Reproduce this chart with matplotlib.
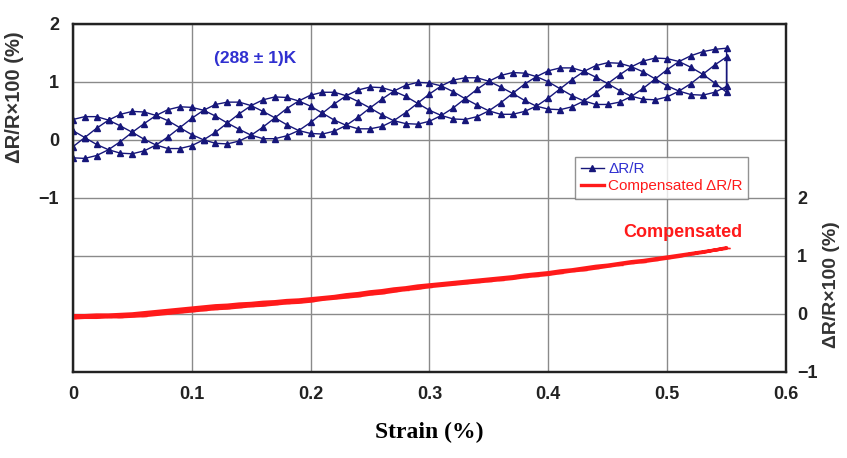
import matplotlib
matplotlib.use('Agg')
import matplotlib.pyplot as plt
import numpy as np

plt.rcParams['font.family'] = ['Liberation Sans', 'DejaVu Sans']

# strain grid (%) shared by every sweep
strain = np.round(np.arange(0, 0.551, 0.01), 2)

# dR/R x 100 (%) for the four sweeps, read along increasing strain
dr_sweep1 = [-0.12, 0.04, 0.20, 0.34, 0.44, 0.49, 0.48, 0.42, 0.33, 0.21,
             0.09, 0.00, -0.06, -0.07, -0.02, 0.08, 0.22, 0.38, 0.54, 0.67,
             0.77, 0.82, 0.82, 0.76, 0.66, 0.55, 0.43, 0.33, 0.28, 0.27,
             0.32, 0.42, 0.55, 0.71, 0.87, 1.01, 1.11, 1.16, 1.15, 1.09,
             1.00, 0.88, 0.76, 0.67, 0.61, 0.61, 0.65, 0.75, 0.89, 1.05,
             1.21, 1.35, 1.45, 1.52, 1.56, 1.58]
dr_sweep2 = [0.35, 0.40, 0.40, 0.34, 0.24, 0.13, 0.01, -0.09, -0.15, -0.15,
             -0.10, 0.00, 0.13, 0.29, 0.45, 0.59, 0.69, 0.74, 0.73, 0.67,
             0.58, 0.46, 0.34, 0.25, 0.19, 0.19, 0.23, 0.33, 0.47, 0.63,
             0.79, 0.93, 1.03, 1.07, 1.07, 1.01, 0.91, 0.80, 0.68, 0.58,
             0.53, 0.52, 0.57, 0.67, 0.81, 0.97, 1.12, 1.26, 1.36, 1.41,
             1.40, 1.35, 1.25, 1.13, 0.98, 0.82]
dr_sweep3 = [-0.31, -0.32, -0.27, -0.17, -0.03, 0.13, 0.28, 0.42, 0.52, 0.57,
             0.56, 0.51, 0.41, 0.29, 0.18, 0.08, 0.02, 0.02, 0.07, 0.16,
             0.30, 0.46, 0.62, 0.76, 0.86, 0.91, 0.90, 0.84, 0.75, 0.63,
             0.51, 0.42, 0.36, 0.35, 0.40, 0.50, 0.64, 0.80, 0.96, 1.09,
             1.19, 1.24, 1.24, 1.18, 1.08, 0.97, 0.85, 0.75, 0.70, 0.69,
             0.74, 0.84, 0.97, 1.13, 1.29, 1.43]
dr_sweep4 = [0.16, 0.04, -0.08, -0.17, -0.23, -0.24, -0.19, -0.09, 0.05, 0.21,
             0.37, 0.51, 0.61, 0.65, 0.65, 0.59, 0.49, 0.38, 0.26, 0.16,
             0.11, 0.10, 0.15, 0.25, 0.39, 0.55, 0.70, 0.84, 0.94, 0.99,
             0.98, 0.93, 0.83, 0.71, 0.60, 0.50, 0.44, 0.44, 0.49, 0.58,
             0.72, 0.88, 1.04, 1.18, 1.28, 1.33, 1.32, 1.26, 1.17, 1.05,
             0.93, 0.84, 0.78, 0.77, 0.82, 0.92]

# compensated dR/R x 100 (%), loading and unloading
comp_up = [-0.07, -0.06, -0.06, -0.05, -0.05, -0.04, -0.03, -0.01, 0.01, 0.03,
           0.05, 0.07, 0.09, 0.10, 0.12, 0.14, 0.15, 0.17, 0.19, 0.20,
           0.22, 0.25, 0.27, 0.29, 0.31, 0.34, 0.36, 0.39, 0.42, 0.44,
           0.47, 0.49, 0.51, 0.53, 0.55, 0.57, 0.59, 0.61, 0.64, 0.66,
           0.68, 0.71, 0.74, 0.76, 0.79, 0.82, 0.85, 0.88, 0.90, 0.93,
           0.96, 0.99, 1.03, 1.06, 1.10, 1.13]
comp_down = [-0.03, -0.03, -0.02, -0.02, -0.01, 0.00, 0.02, 0.04, 0.06, 0.08,
             0.10, 0.12, 0.14, 0.15, 0.17, 0.18, 0.20, 0.21, 0.23, 0.24,
             0.26, 0.28, 0.30, 0.33, 0.35, 0.38, 0.40, 0.43, 0.45, 0.48,
             0.50, 0.52, 0.54, 0.56, 0.58, 0.60, 0.62, 0.64, 0.67, 0.69,
             0.71, 0.74, 0.76, 0.79, 0.82, 0.84, 0.87, 0.90, 0.92, 0.95,
             0.98, 1.01, 1.04, 1.07, 1.10, 1.14]

x_ticks = [0, 0.1, 0.2, 0.3, 0.4, 0.5, 0.6]
x_labels = ['0', '0.1', '0.2', '0.3', '0.4', '0.5', '0.6']
y_left = [-4, -3, -2, -1, 0, 1, 2]
y_left_labels = ['', '', '', '\u22121', '0', '1', '2']
y_right = [-1, 0, 1, 2, 3, 4, 5]
y_right_labels = ['\u22121', '0', '1', '2', '', '', '']

# one continuous record: up, down, up, down
rev = strain[::-1]
x_all = np.concatenate([strain, rev, strain, rev])
y_all = np.concatenate([dr_sweep1, dr_sweep2[::-1], dr_sweep3, dr_sweep4[::-1]])
xc_all = np.concatenate([strain, rev])
yc_all = np.concatenate([comp_up, comp_down[::-1]])

blue = '#16167a'
red = '#ff1a1a'

fig = plt.figure(figsize=(8.47, 4.58), dpi=100)
ax = fig.add_axes([0.086, 0.188, 0.842, 0.760])
ax2 = ax.twinx()

ax.plot(x_all, y_all, color=blue, lw=1.0, marker='^', ms=3.8,
        mec=blue, mfc=blue, label='\u0394R/R')
ax2.plot(xc_all, yc_all, color=red, lw=2.4, marker='_', ms=4,
         label='Compensated \u0394R/R')

ax.set_xlim(0, 0.6)
ax.set_ylim(-4, 2)
ax2.set_ylim(-1, 5)

ax.set_xticks(x_ticks)
ax.set_xticklabels(x_labels)
ax.set_yticks(y_left)
ax.set_yticklabels(y_left_labels)
ax2.set_yticks(y_right)
ax2.set_yticklabels(y_right_labels)

ax.grid(True, color='#8a8a8a', lw=1)
ax.set_axisbelow(True)
for a in (ax, ax2):
    a.tick_params(length=0, labelsize=13, colors='#222222')
    for lab in a.get_xticklabels() + a.get_yticklabels():
        lab.set_fontweight('bold')
    for s in a.spines.values():
        s.set_linewidth(1.6)
        s.set_color('#222222')
ax.tick_params(axis='x', pad=10)
ax.tick_params(axis='y', pad=10)
ax2.tick_params(axis='y', pad=8)

ax.set_ylabel('\u0394R/R\u00d7100 (%)', fontsize=14.5, fontweight='bold', color='#333333')
ax.yaxis.set_label_coords(-0.068, 0.79)
ax2.set_ylabel('\u0394R/R\u00d7100 (%)', fontsize=14, fontweight='bold', color='#333333')
ax2.yaxis.set_label_coords(1.052, 0.25)

ax.set_xlabel('Strain (%)', fontsize=17, fontweight='bold',
              family='Liberation Serif', labelpad=14)

ax.text(0.153, 1.41, '(288 \u00b1 1)K', color='#3030d0', fontsize=12.5,
        fontweight='bold', ha='center', va='center')
ax2.text(0.513, 1.41, 'Compensated', color=red, fontsize=13,
         fontweight='bold', ha='center', va='center')

h1, l1 = ax.get_legend_handles_labels()
h2, l2 = ax2.get_legend_handles_labels()
leg = ax2.legend(h1 + h2, l1 + l2, loc='upper left', bbox_to_anchor=(0.694, 0.64),
                 fontsize=11, frameon=True, fancybox=False, handlelength=1.5,
                 borderpad=0.35, labelspacing=0.2, handletextpad=0.3)
leg.get_frame().set_edgecolor('#777777')
leg.get_frame().set_linewidth(1.0)
leg.texts[0].set_color('#3030d0')
leg.texts[1].set_color(red)

fig.savefig('out.png', dpi=100)
